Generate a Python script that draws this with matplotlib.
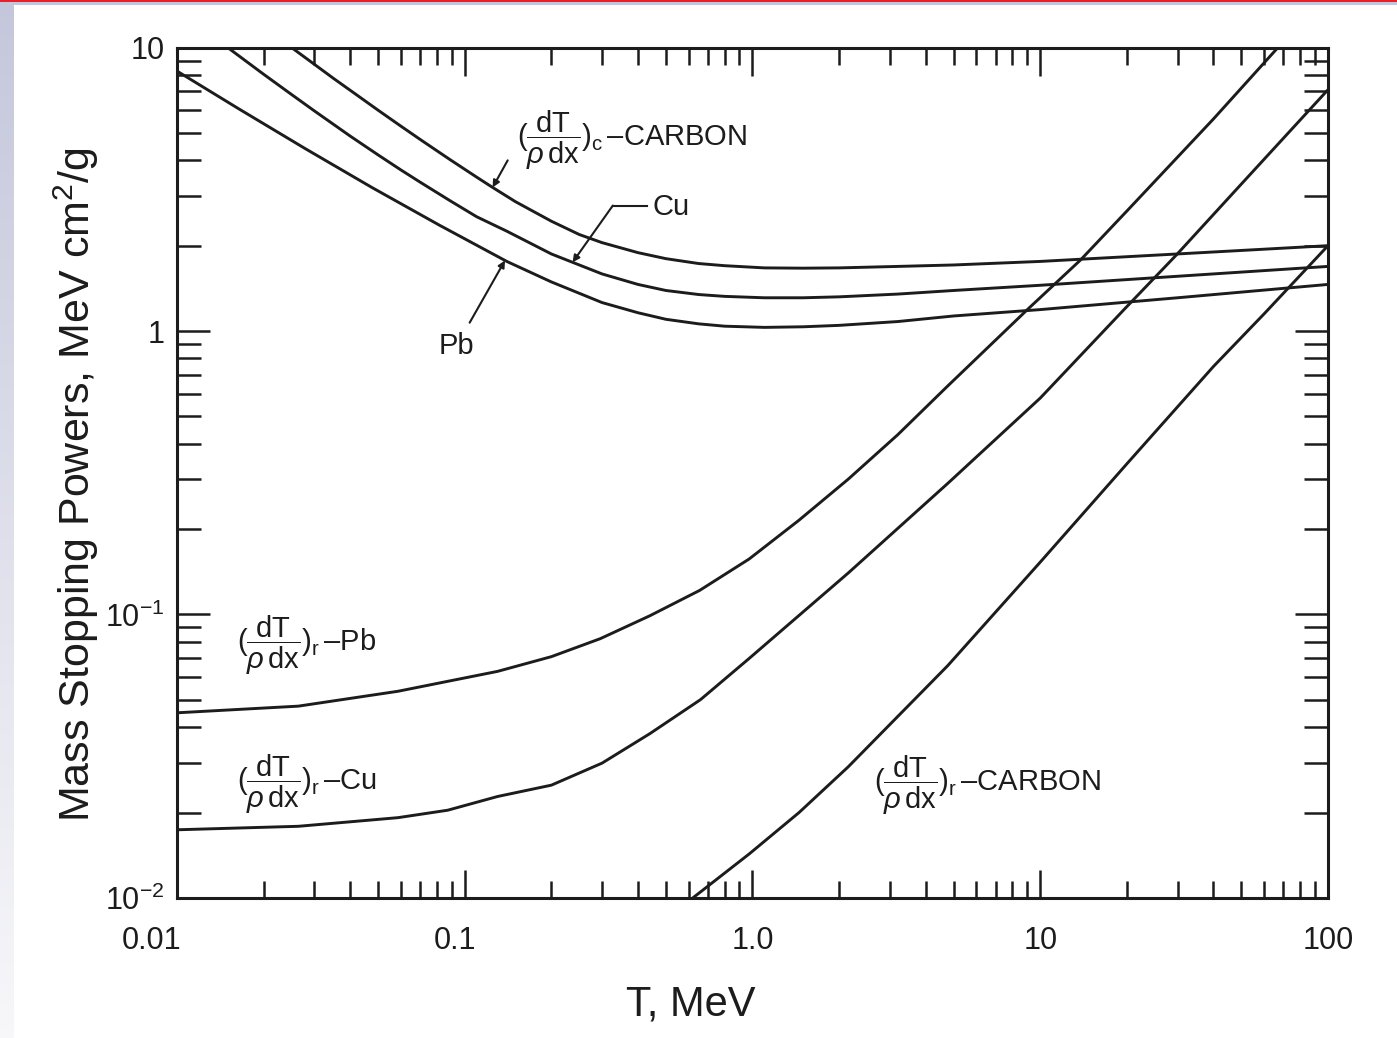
import matplotlib
matplotlib.use('Agg')
import matplotlib.pyplot as plt
import numpy as np
from matplotlib.ticker import FixedLocator, LogLocator, NullFormatter
from matplotlib.transforms import ScaledTranslation
from matplotlib.patches import Rectangle

# electron mass stopping powers (T in MeV, S in MeV cm^2/g)
# collision ( _c ) curves
carbon_c_T = [0.025, 0.03, 0.035, 0.042, 0.05, 0.06, 0.07, 0.089, 0.11, 0.125, 0.15, 0.2, 0.25,
              0.3, 0.4, 0.5, 0.65, 0.8, 1.1, 1.5, 2.0, 3.2, 5.0, 10, 30, 100]
carbon_c_S = [10, 8.73, 7.78, 6.82, 6.01, 5.28, 4.74, 4.02, 3.49, 3.21, 2.86, 2.44, 2.19,
              2.05, 1.89, 1.80, 1.73, 1.70, 1.67, 1.666, 1.67, 1.69, 1.71, 1.76, 1.87, 2.0]

cu_c_T = [0.015, 0.02, 0.025, 0.03, 0.04, 0.05, 0.06, 0.07, 0.089, 0.11, 0.14, 0.2, 0.3,
          0.4, 0.5, 0.65, 0.8, 1.1, 1.5, 2.0, 3.2, 5.0, 10, 30, 100]
cu_c_S = [10, 8.05, 6.83, 5.98, 4.87, 4.18, 3.70, 3.35, 2.88, 2.53, 2.25, 1.87, 1.59,
          1.46, 1.39, 1.345, 1.325, 1.31, 1.31, 1.32, 1.35, 1.39, 1.45, 1.56, 1.69]

pb_c_T = [0.01, 0.0163, 0.0279, 0.0478, 0.0818, 0.14, 0.2, 0.3, 0.4, 0.5, 0.65, 0.8, 1.1,
          1.5, 2.0, 3.2, 5.0, 10, 30, 100]
pb_c_S = [8.26, 6.10, 4.40, 3.20, 2.36, 1.76, 1.49, 1.26, 1.16, 1.10, 1.06, 1.04, 1.03,
          1.035, 1.047, 1.08, 1.13, 1.19, 1.31, 1.46]

# radiative ( _r ) curves
pb_r_T = [0.01, 0.0264, 0.0586, 0.13, 0.2, 0.296, 0.44, 0.655, 0.974, 1.45, 2.15, 3.2, 4.77,
          9.1, 13.8, 20, 40, 67, 100]
pb_r_S = [0.045, 0.0475, 0.0536, 0.063, 0.071, 0.0822, 0.099, 0.1216, 0.157, 0.215, 0.30,
          0.431, 0.64, 1.2, 1.78, 2.65, 5.6, 10, 15]

cu_r_T = [0.01, 0.0264, 0.0586, 0.0873, 0.13, 0.2, 0.3, 0.44, 0.66, 0.974, 2.15, 4.77, 10,
          19.7, 29.8, 50, 100]
cu_r_S = [0.0174, 0.0179, 0.0192, 0.0204, 0.0228, 0.025, 0.0299, 0.038, 0.0501, 0.070, 0.14,
          0.29, 0.58, 1.2, 1.86, 3.3, 7.1]

carbon_r_T = [0.62, 0.974, 1.45, 2.15, 4.77, 10, 20, 40, 60, 100]
carbon_r_S = [0.01, 0.0143, 0.020, 0.029, 0.066, 0.153, 0.34, 0.75, 1.15, 2.0]

x_ticks = [0.01, 0.1, 1, 10, 100]
x_tick_labels = ['0.01', '0.1', '1.0', '10', '100']
y_ticks = [0.01, 0.1, 1, 10]
y_tick_labels = [r'$10^{-2}$', r'$10^{-1}$', '1', '10']

ink = '#1c1c1c'

plt.rcParams['font.family'] = ['Liberation Sans', 'DejaVu Sans']
plt.rcParams['mathtext.fontset'] = 'custom'
plt.rcParams['mathtext.rm'] = 'Liberation Sans'
plt.rcParams['mathtext.it'] = 'Liberation Sans:italic'
plt.rcParams['mathtext.bf'] = 'Liberation Sans:bold'


def on_curve(T, S, t):
    # point on a drawn curve, for the leader lines
    return 10 ** np.interp(np.log10(t), np.log10(T), np.log10(S))


fig = plt.figure(figsize=(13.97, 10.38), dpi=100)
fig.patch.set_facecolor('white')

# slide decoration: lavender band on the left, red rule on top
band = fig.add_axes([0, 0, 14 / 1397, 1])
grad = np.linspace(0, 1, 256)[:, None]
lav = np.array([0.77, 0.78, 0.86])
img = (1 - grad)[..., None] * lav + grad[..., None] * np.array([0.97, 0.97, 0.98])
band.imshow(img, aspect='auto', extent=[0, 1, 0, 1], origin='upper')
band.axis('off')
fig.add_artist(Rectangle((0, 1 - 5 / 1038), 1, 4 / 1038, transform=fig.transFigure,
                         color=lav, lw=0))
fig.add_artist(Rectangle((0, 1 - 2 / 1038), 1, 2 / 1038, transform=fig.transFigure,
                         color='#e8202a', lw=0))

ax = fig.add_axes([0.1267, 0.1349, 0.8239, 0.8193])

for T, S in [(carbon_c_T, carbon_c_S), (cu_c_T, cu_c_S), (pb_c_T, pb_c_S),
             (pb_r_T, pb_r_S), (cu_r_T, cu_r_S), (carbon_r_T, carbon_r_S)]:
    ax.plot(T, S, color=ink, lw=2.1, solid_joinstyle='round')

ax.set_xscale('log')
ax.set_yscale('log')
ax.set_xlim(0.01, 100)
ax.set_ylim(0.01, 10)

ax.xaxis.set_major_locator(FixedLocator(x_ticks))
ax.set_xticklabels(x_tick_labels)
ax.xaxis.set_minor_locator(LogLocator(base=10, subs=np.arange(2, 10)))
ax.xaxis.set_minor_formatter(NullFormatter())
ax.yaxis.set_major_locator(FixedLocator(y_ticks))
ax.set_yticklabels(y_tick_labels)
ax.yaxis.set_minor_locator(LogLocator(base=10, subs=np.arange(2, 10)))
ax.yaxis.set_minor_formatter(NullFormatter())

ax.tick_params(which='both', direction='in', top=True, right=True, width=1.8,
               color=ink, labelcolor=ink)
ax.tick_params(axis='x', which='major', length=20, pad=20, labelsize=22)
ax.tick_params(axis='x', which='minor', length=12)
ax.tick_params(axis='y', which='major', length=24, pad=9, labelsize=22)
ax.tick_params(axis='y', which='minor', length=17)
for sp in ax.spines.values():
    sp.set_linewidth(2.2)
    sp.set_color(ink)

# the first two x labels sit a bit left of their ticks in the scan
xl = ax.get_xticklabels()
xl[0].set_transform(xl[0].get_transform() + ScaledTranslation(-0.25, 0, fig.dpi_scale_trans))
xl[1].set_transform(xl[1].get_transform() + ScaledTranslation(-0.10, 0, fig.dpi_scale_trans))

ax.set_xlabel('T, MeV', fontsize=30, color=ink)
ax.xaxis.set_label_coords(0.446, -0.102)
ax.set_ylabel(r'Mass Stopping Powers, MeV cm$^2$/g', fontsize=31, color=ink)
ax.yaxis.set_label_coords(-0.066, 0.486)

frac = r'$(\dfrac{\mathrm{dT}}{\rho\,\mathrm{dx}})_{\mathrm{%s}}\,$'
fs = 21

# collision labels
ax.text(0.152, 4.72, frac % 'c' + '–CARBON', fontsize=fs, color=ink, va='center', ha='left')
ax.annotate('', xy=(0.125, on_curve(carbon_c_T, carbon_c_S, 0.125)), xytext=(0.141, 4.0),
            arrowprops=dict(arrowstyle='-|>', color=ink, lw=1.5, mutation_scale=10,
                            shrinkA=0, shrinkB=0))

ax.text(0.45, 2.73, 'Cu', fontsize=fs, color=ink, va='center', ha='left')
ax.plot([0.43, 0.327], [2.77, 2.77], color=ink, lw=1.5)
ax.annotate('', xy=(0.237, on_curve(cu_c_T, cu_c_S, 0.237)), xytext=(0.327, 2.77),
            arrowprops=dict(arrowstyle='-|>', color=ink, lw=1.5, mutation_scale=10,
                            shrinkA=0, shrinkB=0))

ax.text(0.0938, 0.885, 'Pb', fontsize=fs, color=ink, va='center', ha='center')
ax.annotate('', xy=(0.138, on_curve(pb_c_T, pb_c_S, 0.138)), xytext=(0.104, 1.07),
            arrowprops=dict(arrowstyle='-|>', color=ink, lw=1.5, mutation_scale=10,
                            shrinkA=0, shrinkB=0))

# radiative labels
ax.text(0.0162, 0.0776, frac % 'r' + '–Pb', fontsize=fs, color=ink, va='center', ha='left')
ax.text(0.0162, 0.0252, frac % 'r' + '–Cu', fontsize=fs, color=ink, va='center', ha='left')
ax.text(2.65, 0.025, frac % 'r' + '–CARBON', fontsize=fs, color=ink, va='center', ha='left')

fig.savefig('out.png', dpi=100, facecolor='white')
